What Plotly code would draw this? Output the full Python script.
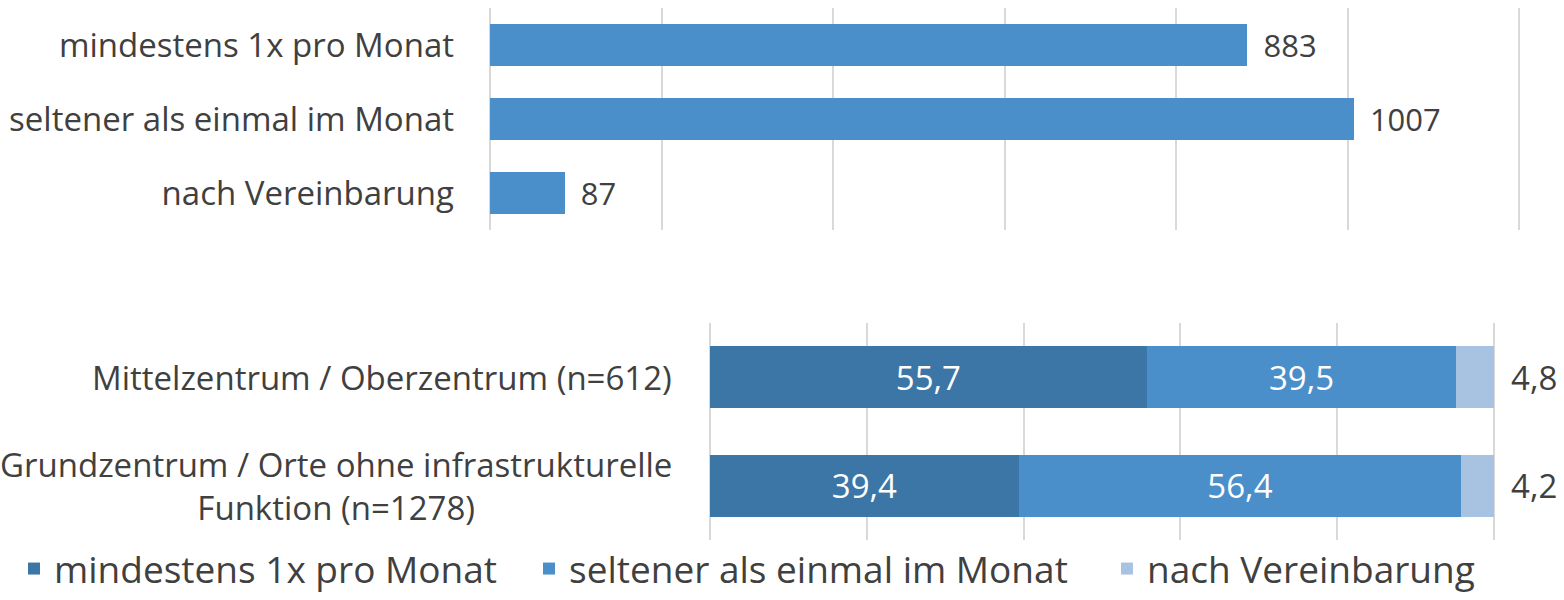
import plotly.graph_objects as go

# ---- data ----
freq_categories = ["mindestens 1x pro Monat", "seltener als einmal im Monat", "nach Vereinbarung"]
freq_counts = [883, 1007, 87]

region_categories = ["Mittelzentrum / Oberzentrum (n=612)",
                     "Grundzentrum / Orte ohne infrastrukturelle<br>Funktion (n=1278)"]
series_names = ["mindestens 1x pro Monat", "seltener als einmal im Monat", "nach Vereinbarung"]
share_min1 = [55.7, 39.4]
share_seltener = [39.5, 56.4]
share_vereinb = [4.8, 4.2]

colors = ["#3B76A6", "#4A8FC9", "#A8C2E1"]
FONT = "Open Sans"
TXT = "#404040"
FS = 33
PAD = "\u00a0\u2009"

def de(v):
    return f"{v:.1f}".replace(".", ",")

fig = go.Figure()

# top chart
fig.add_trace(go.Bar(
    y=freq_categories, x=freq_counts, orientation="h",
    marker=dict(color=colors[1], line=dict(width=0)),
    text=[PAD + str(v) for v in freq_counts], textposition="outside",
    textfont=dict(color=TXT, size=FS, family=FONT),
    cliponaxis=False, showlegend=False, xaxis="x", yaxis="y",
))

# bottom chart
legend_ids = ["legend", "legend2", "legend3"]
series_vals = [share_min1, share_seltener, share_vereinb]
for i, (name, vals) in enumerate(zip(series_names, series_vals)):
    last = i == 2
    fig.add_trace(go.Bar(
        y=region_categories, x=vals, orientation="h", name=name,
        marker=dict(color=colors[i], line=dict(width=0)),
        text=[(PAD if last else "") + de(v) for v in vals],
        textposition="outside" if last else "inside",
        insidetextanchor="middle",
        textfont=dict(color=TXT if last else "white", size=FS, family=FONT),
        cliponaxis=False, xaxis="x2", yaxis="y2", legend=legend_ids[i],
    ))

GRID = "#D9D9D9"
leg_common = dict(orientation="h", xanchor="left", yanchor="bottom",
                  xref="paper", yref="paper", y=0,
                  font=dict(size=37, color=TXT, family=FONT), itemwidth=30,
                  bgcolor="rgba(0,0,0,0)")
fig.update_layout(
    width=1564, height=600,
    margin=dict(l=0, r=0, t=0, b=0),
    paper_bgcolor="white", plot_bgcolor="white",
    font=dict(family=FONT, size=FS, color=TXT),
    barmode="stack", bargap=0.43,
    xaxis=dict(domain=[490/1564, 1521/1564], anchor="y", range=[0, 1202], dtick=200,
               showticklabels=False, showgrid=True, gridcolor=GRID, gridwidth=2,
               zeroline=True, zerolinecolor=GRID, zerolinewidth=2, showline=False),
    yaxis=dict(domain=[1-230/600, 1-8/600], anchor="x", autorange="reversed",
               showgrid=False, ticklabelstandoff=35,
               tickfont=dict(size=FS, color=TXT, family=FONT)),
    xaxis2=dict(domain=[710/1564, 1496/1564], anchor="y2", range=[0, 100.25], dtick=20,
                showticklabels=False, showgrid=True, gridcolor=GRID, gridwidth=2,
                zeroline=True, zerolinecolor=GRID, zerolinewidth=2, showline=False),
    yaxis2=dict(domain=[1-540/600, 1-323/600], anchor="x2", autorange="reversed",
                showgrid=False, showticklabels=False),
    legend=dict(leg_common, x=14/1564),
    legend2=dict(leg_common, x=529/1564),
    legend3=dict(leg_common, x=1107/1564),
)

for cat in region_categories:
    fig.add_annotation(
        x=674/1564, xref="paper", y=cat, yref="y2",
        text=cat, showarrow=False, xanchor="right", yanchor="middle", align="center",
        font=dict(size=FS, color=TXT, family=FONT),
    )

fig.write_html("out.html", config={"displayModeBar": False},
               post_script="document.body.style.margin='0';")
